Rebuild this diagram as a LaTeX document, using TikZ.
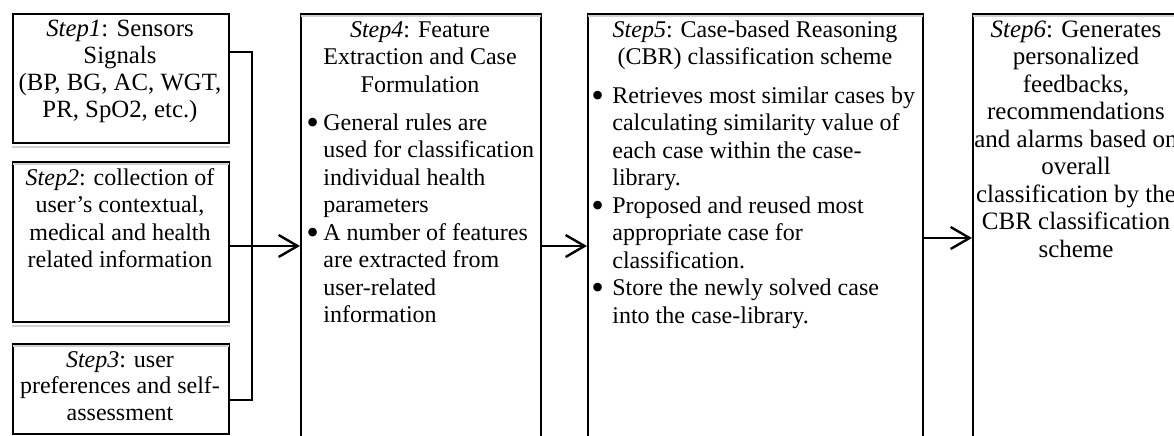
\documentclass[tikz,border=0pt]{standalone}
\usepackage{fontspec}
\setmainfont{Liberation Serif}
\usetikzlibrary{arrows.meta}
\newcommand\dotbul{\raisebox{-2.2pt}{\fontsize{18}{13.75}\selectfont\textbullet}}
\newcommand\bulA{\makebox[7.5pt][l]{\hspace*{-1pt}\dotbul}}
\newcommand\bulB{\makebox[9.5pt][l]{\hspace*{-1pt}\dotbul}}
\begin{document}
\begin{tikzpicture}[x=0.5pt,y=-0.5pt,
  box/.style={draw, line width=1pt, inner sep=0pt, anchor=north west},
  txt/.style={inner sep=0pt, anchor=base, font=\fontsize{12}{13.75}\selectfont},
  txtl/.style={inner sep=0pt, anchor=base west, font=\fontsize{12}{13.75}\selectfont},
  conn/.style={line width=1.4pt},
  arr/.style={line width=1.2pt, -{Straight Barb[length=9.5pt,width=11pt,line width=1.2pt]}},
  shade/.style={draw=black!18, line width=1pt}
]
\useasboundingbox (0,0) rectangle (1174,435);
% boxes
\node[box, minimum width=108pt, minimum height=64.5pt] (b1) at (12,13) {};
\node[box, minimum width=108pt, minimum height=80pt] (b2) at (12,161) {};
\node[box, minimum width=108pt, minimum height=45pt] (b3) at (12,343) {};
\node[box, minimum width=120pt, minimum height=220pt] (b4) at (300,13) {};
\node[box, minimum width=167.5pt, minimum height=220pt] (b5) at (587,13) {};
\node[box, minimum width=120pt, minimum height=220pt] (b6) at (972,13) {};
% shadow lines
\draw[shade] ([yshift=-1.6pt]b1.south west) -- ([yshift=-1.6pt]b1.south east);
\draw[shade] ([yshift=-1.6pt]b2.south west) -- ([yshift=-1.6pt]b2.south east);
\draw[shade] ([yshift=-1.6pt,xshift=0.5pt]b2.north west) -- ([yshift=-1.6pt,xshift=-0.5pt]b2.north east);
\draw[shade] ([yshift=-1.6pt,xshift=0.5pt]b3.north west) -- ([yshift=-1.6pt,xshift=-0.5pt]b3.north east);
\draw[shade] ([yshift=-1.6pt,xshift=0.5pt]b4.north west) -- ([yshift=-1.6pt,xshift=-0.5pt]b4.north east);
\draw[shade] ([yshift=-1.6pt,xshift=0.5pt]b5.north west) -- ([yshift=-1.6pt,xshift=-0.5pt]b5.north east);
\draw[shade] ([yshift=-1.6pt,xshift=0.5pt]b6.north west) -- ([yshift=-1.6pt,xshift=-0.5pt]b6.north east);
% texts
\node[txt, font=\fontsize{12.4}{13.6}\selectfont] (t1) at (120,36) {\begin{tabular}[t]{@{}c@{}}\textit{Step1}: Sensors\\ Signals\\ (BP, BG, AC, WGT,\\ PR, SpO2, etc.)\end{tabular}};
\node[txt] (t2) at (120,185) {\begin{tabular}[t]{@{}c@{}}\textit{Step2}: collection of\\ user’s contextual,\\ medical and health\\ related information\end{tabular}};
\node[txt, font=\fontsize{12}{13.3}\selectfont] (t3) at (120,367) {\begin{tabular}[t]{@{}c@{}}\textit{Step3}: user\\ preferences and self-\\ assessment\end{tabular}};
\node[txt] (t4) at (420,37) {\begin{tabular}[t]{@{}c@{}}\textit{Step4}: Feature\\ Extraction and Case\\ Formulation\end{tabular}};
\node[txtl] (l4) at (308,130) {\begin{tabular}[t]{@{}l@{}}\bulA General rules are\\ \hspace*{7.5pt}used for classification\\ \hspace*{7.5pt}individual health\\ \hspace*{7.5pt}parameters\\ \bulA A number of features\\ \hspace*{7.5pt}are extracted from\\ \hspace*{7.5pt}user-related\\ \hspace*{7.5pt}information\end{tabular}};
\node[txt] (t5) at (755,37) {\begin{tabular}[t]{@{}c@{}}\textit{Step5}: Case-based Reasoning\\ (CBR) classification scheme\end{tabular}};
\node[txtl] (l5) at (593,103) {\begin{tabular}[t]{@{}l@{}}\bulB Retrieves most similar cases by\\ \hspace*{9.5pt}calculating similarity value of\\ \hspace*{9.5pt}each case within the case-\\ \hspace*{9.5pt}library.\\ \bulB Proposed and reused most\\ \hspace*{9.5pt}appropriate case for\\ \hspace*{9.5pt}classification.\\ \bulB Store the newly solved case\\ \hspace*{9.5pt}into the case-library.\end{tabular}};
\node[txt, font=\fontsize{12.5}{13.75}\selectfont] (t6) at (1076,37) {\begin{tabular}[t]{@{}c@{}}\textit{Step6}: Generates\\ personalized\\ feedbacks,\\ recommendations\\ and alarms based on\\ overall\\ classification by the\\ CBR classification\\ scheme\end{tabular}};
% connectors
\coordinate (jt) at (252,52);
\coordinate (jb) at (252,400);
\coordinate (ya) at (0,246);
\coordinate (yb) at (0,238);
\draw[conn] (b1.east |- jt) -- (jt) -- (jb) -- (b3.east |- jb);
\draw[arr] (b2.east |- ya) -- (b4.west |- ya);
\draw[arr] (b4.east |- ya) -- (b5.west |- ya);
\draw[arr] (b5.east |- yb) -- (b6.west |- yb);
\end{tikzpicture}
\end{document}
